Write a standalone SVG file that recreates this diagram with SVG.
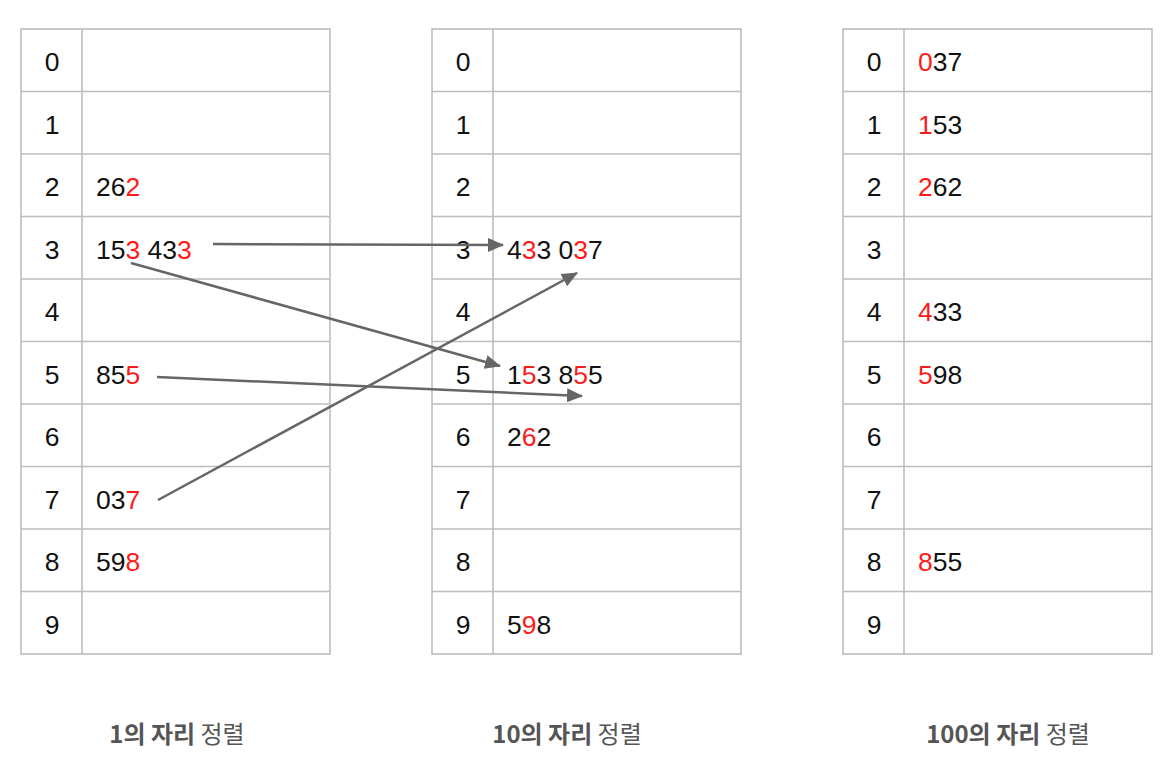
<svg xmlns="http://www.w3.org/2000/svg" width="1175" height="770" viewBox="0 0 1175 770">
<style>
.grid{fill:none;stroke:#bdbdbd;stroke-width:1.6}
.num{font-family:"Liberation Sans",Arial,sans-serif;font-size:26.5px;fill:#111}
.idx{text-anchor:middle}
.r{fill:#ff1a1a}
.cap{font-family:"Noto Sans CJK KR","Noto Sans",sans-serif;font-size:24px;fill:#555;text-anchor:middle}
.b{font-weight:bold}
.conn{stroke:#666;stroke-width:2.5;fill:none;marker-end:url(#ah)}
</style>
<defs>
<marker id="ah" markerUnits="userSpaceOnUse" markerWidth="16" markerHeight="14" refX="15" refY="7" orient="auto">
<path d="M0,0 L16,7 L0,14 Z" fill="#666"/>
</marker>
<g id="grid">
<rect class="grid" x="0" y="0" width="309" height="625"/>
<line class="grid" x1="61" y1="0" x2="61" y2="625"/>
<line class="grid" x1="0" y1="62.5" x2="309" y2="62.5"/>
<line class="grid" x1="0" y1="125" x2="309" y2="125"/>
<line class="grid" x1="0" y1="187.5" x2="309" y2="187.5"/>
<line class="grid" x1="0" y1="250" x2="309" y2="250"/>
<line class="grid" x1="0" y1="312.5" x2="309" y2="312.5"/>
<line class="grid" x1="0" y1="375" x2="309" y2="375"/>
<line class="grid" x1="0" y1="437.5" x2="309" y2="437.5"/>
<line class="grid" x1="0" y1="500" x2="309" y2="500"/>
<line class="grid" x1="0" y1="562.5" x2="309" y2="562.5"/>
<text class="num idx" x="31" y="42">0</text>
<text class="num idx" x="31" y="104.5">1</text>
<text class="num idx" x="31" y="167">2</text>
<text class="num idx" x="31" y="229.5">3</text>
<text class="num idx" x="31" y="292">4</text>
<text class="num idx" x="31" y="354.5">5</text>
<text class="num idx" x="31" y="417">6</text>
<text class="num idx" x="31" y="479.5">7</text>
<text class="num idx" x="31" y="542">8</text>
<text class="num idx" x="31" y="604.5">9</text>
</g>
</defs>
<rect width="1175" height="770" fill="#fff"/>
<g id="table1">
<use href="#grid" x="21" y="29"/>
<text class="num" x="96" y="196">26<tspan class="r">2</tspan></text>
<text class="num" x="96" y="258.5">15<tspan class="r">3</tspan> 43<tspan class="r">3</tspan></text>
<text class="num" x="96" y="383.5">85<tspan class="r">5</tspan></text>
<text class="num" x="96" y="508.5">03<tspan class="r">7</tspan></text>
<text class="num" x="96" y="571">59<tspan class="r">8</tspan></text>
</g>
<g id="table2">
<use href="#grid" x="432" y="29"/>
<text class="num" x="507" y="258.5">4<tspan class="r">3</tspan>3 0<tspan class="r">3</tspan>7</text>
<text class="num" x="507" y="383.5">1<tspan class="r">5</tspan>3 8<tspan class="r">5</tspan>5</text>
<text class="num" x="507" y="446">2<tspan class="r">6</tspan>2</text>
<text class="num" x="507" y="633.5">5<tspan class="r">9</tspan>8</text>
</g>
<g id="table3">
<use href="#grid" x="843" y="29"/>
<text class="num" x="918" y="71"><tspan class="r">0</tspan>37</text>
<text class="num" x="918" y="133.5"><tspan class="r">1</tspan>53</text>
<text class="num" x="918" y="196"><tspan class="r">2</tspan>62</text>
<text class="num" x="918" y="321"><tspan class="r">4</tspan>33</text>
<text class="num" x="918" y="383.5"><tspan class="r">5</tspan>98</text>
<text class="num" x="918" y="571"><tspan class="r">8</tspan>55</text>
</g>
<g id="connectors">
<line class="conn" x1="213" y1="244" x2="503" y2="245"/>
<line class="conn" x1="131" y1="263" x2="500" y2="366"/>
<line class="conn" x1="157" y1="377" x2="582" y2="396"/>
<line class="conn" x1="158" y1="500" x2="577" y2="273"/>
</g>
<g id="captions">
<text class="cap" x="177" y="743"><tspan class="b">1의 자리</tspan> 정렬</text>
<text class="cap" x="567" y="743"><tspan class="b">10의 자리</tspan> 정렬</text>
<text class="cap" x="1008" y="743"><tspan class="b">100의 자리</tspan> 정렬</text>
</g>
</svg>
